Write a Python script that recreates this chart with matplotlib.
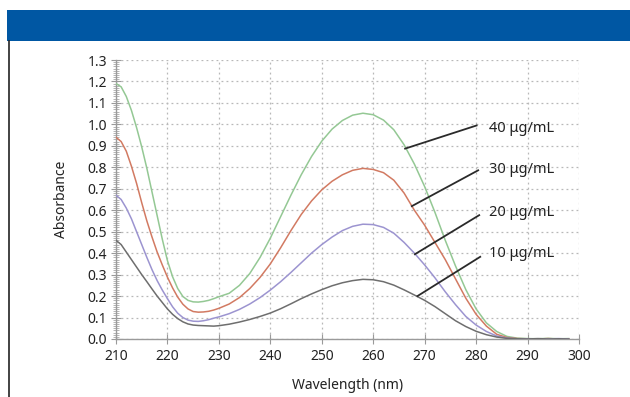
import matplotlib
matplotlib.use("Agg")
import matplotlib.pyplot as plt
from matplotlib.patches import Rectangle
from matplotlib.lines import Line2D
from matplotlib.ticker import MultipleLocator

plt.rcParams['font.family'] = ['Noto Sans', 'DejaVu Sans']

# wavelength grid (nm)
wavelength = [210, 211, 212, 213, 214, 215, 216, 217, 218, 219, 220, 221, 222, 223, 224,
              225, 226, 227, 228, 229, 230, 232, 234, 236, 238, 240, 242, 244, 246, 248,
              250, 252, 254, 256, 258, 260, 262, 264, 266, 268, 270, 272, 274, 276, 278,
              280, 282, 284, 286, 288, 290, 292, 294, 296, 298]

abs_40 = [1.19, 1.175, 1.13, 1.065, 0.985, 0.895, 0.795, 0.685, 0.575, 0.465, 0.365, 0.29, 0.235, 0.198, 0.18,
          0.173, 0.172, 0.175, 0.18, 0.188, 0.197, 0.213, 0.25, 0.305, 0.38, 0.47, 0.57, 0.67, 0.765, 0.85,
          0.922, 0.978, 1.018, 1.043, 1.052, 1.045, 1.02, 0.975, 0.905, 0.815, 0.71, 0.59, 0.46, 0.34, 0.23,
          0.14, 0.075, 0.035, 0.012, 0.004, 0.002, 0.001, 0.003, 0.001, 0.002]

abs_30 = [0.94, 0.92, 0.875, 0.805, 0.725, 0.635, 0.55, 0.475, 0.405, 0.345, 0.288, 0.238, 0.195, 0.162, 0.14,
          0.128, 0.125, 0.126, 0.129, 0.135, 0.143, 0.163, 0.193, 0.235, 0.287, 0.35, 0.425, 0.505, 0.58, 0.643,
          0.695, 0.735, 0.765, 0.786, 0.795, 0.79, 0.775, 0.74, 0.68, 0.60, 0.53, 0.45, 0.37, 0.28, 0.19,
          0.115, 0.06, 0.022, 0.007, 0.002, 0.001, 0.0, 0.002, 0.0, 0.001]

abs_20 = [0.67, 0.65, 0.61, 0.56, 0.50, 0.44, 0.38, 0.323, 0.272, 0.228, 0.188, 0.15, 0.12, 0.10, 0.088,
          0.083, 0.082, 0.085, 0.09, 0.097, 0.103, 0.118, 0.138, 0.163, 0.193, 0.228, 0.267, 0.31, 0.355, 0.40,
          0.44, 0.475, 0.505, 0.525, 0.535, 0.533, 0.52, 0.493, 0.45, 0.40, 0.345, 0.285, 0.22, 0.16, 0.105,
          0.065, 0.035, 0.014, 0.004, 0.001, 0.0, 0.001, 0.0, 0.002, 0.0]

abs_10 = [0.46, 0.44, 0.405, 0.37, 0.335, 0.30, 0.267, 0.233, 0.20, 0.17, 0.14, 0.115, 0.095, 0.08, 0.07,
          0.065, 0.063, 0.062, 0.061, 0.06, 0.062, 0.069, 0.079, 0.091, 0.105, 0.121, 0.141, 0.164, 0.188, 0.21,
          0.23, 0.248, 0.262, 0.272, 0.278, 0.276, 0.267, 0.251, 0.229, 0.205, 0.18, 0.151, 0.118, 0.085, 0.058,
          0.036, 0.02, 0.009, 0.003, 0.001, 0.0, 0.002, 0.0, 0.001, 0.0]

labels = ['40 μg/mL', '30 μg/mL', '20 μg/mL', '10 μg/mL']
colors = ['#94c894', '#d27a62', '#9c94d0', '#6e6e6e']
# label anchor (text position) and leader line endpoints in data units
label_xy = [(282.5, 0.98), (282.5, 0.79), (282.5, 0.59), (282.5, 0.40)]
leader_start = [(266.2, 0.887), (267.5, 0.619), (268.1, 0.395), (268.6, 0.20)]
leader_end = [(280.1, 0.995), (280.4, 0.786), (280.6, 0.577), (280.8, 0.383)]

fig = plt.figure(figsize=(6.3, 3.97), dpi=100)
fig.patch.set_facecolor('white')

# blue header band and left rule
fig.add_artist(Rectangle((7 / 630, 1 - 41 / 397), 1, 31 / 397, transform=fig.transFigure,
                         facecolor='#0057a3', edgecolor='none'))
fig.add_artist(Line2D([8.5 / 630, 8.5 / 630], [0, 1 - 41 / 397], transform=fig.transFigure,
                      color='#222222', lw=1.2))

ax = fig.add_axes([116 / 630, 1 - 339 / 397, (579 - 116) / 630, (339 - 60) / 397])

for y, c in zip([abs_40, abs_30, abs_20, abs_10], colors):
    ax.plot(wavelength, y, color=c, lw=1.1, zorder=3)

for lab, (tx, ty), (x0, y0), (x1, y1) in zip(labels, label_xy, leader_start, leader_end):
    ax.plot([x0, x1], [y0, y1], color='#2a2a2a', lw=1.3, zorder=4, clip_on=False)
    ax.text(tx, ty, lab, fontsize=10.5, color='#222222', va='center', ha='left', zorder=5)

ax.set_xlim(210, 300)
ax.set_ylim(0, 1.3)
ax.xaxis.set_major_locator(MultipleLocator(10))
ax.yaxis.set_major_locator(MultipleLocator(0.1))
ax.yaxis.set_minor_locator(MultipleLocator(0.01))
ax.yaxis.set_major_formatter(plt.FuncFormatter(lambda v, p: f'{v:.1f}'))

ax.grid(True, which='major', linestyle=(0, (1.5, 2.5)), color='#b8b8b8', lw=0.9)
for s in ['top', 'right']:
    ax.spines[s].set_visible(False)
for s in ['left', 'bottom']:
    ax.spines[s].set_color('#9a9a9a')
    ax.spines[s].set_linewidth(1.0)

ax.tick_params(axis='both', which='major', direction='inout', length=7, color='#9a9a9a',
               labelsize=10, labelcolor='#222222')
ax.tick_params(axis='y', which='minor', direction='inout', length=4, color='#aaaaaa', width=0.6)
ax.tick_params(axis='y', which='major', pad=3)

ax.set_xlabel('Wavelength (nm)', fontsize=10, color='#222222', labelpad=10)
ax.set_ylabel('Absorbance', fontsize=10, color='#222222', labelpad=13)

fig.savefig('out.png', dpi=100)
